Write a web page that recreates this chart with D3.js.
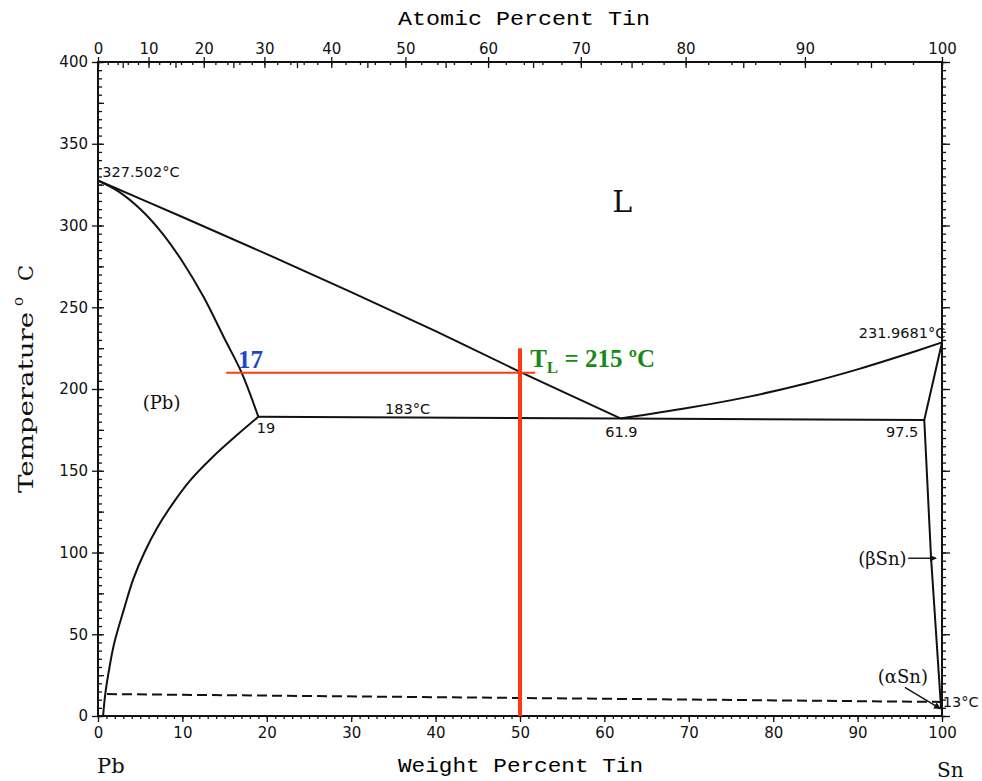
<!DOCTYPE html>
<html>
<head>
<meta charset="utf-8">
<title>Pb-Sn phase diagram</title>
<script src="https://cdn.jsdelivr.net/npm/d3@7"></script>
<style>
  body { margin: 0; background: #fff; }
  svg { display: block; }
  .phase { fill: none; stroke: #111; stroke-width: 2; }
  .tickLabel { font-family: "DejaVu Sans", sans-serif; font-size: 15px; fill: #111; }
  .note { font-family: "DejaVu Sans", sans-serif; font-size: 14.5px; fill: #111; }
  .region { font-family: "DejaVu Serif", serif; fill: #111; }
</style>
</head>
<body>
<script>
(function(){

//tick labels for the three axes
var wtTicks = [0, 10, 20, 30, 40, 50, 60, 70, 80, 90, 100];
var atTicks = [0, 10, 20, 30, 40, 50, 60, 70, 80, 90, 100];
var tempTicks = [0, 50, 100, 150, 200, 250, 300, 350, 400];

//phase boundaries, [weight % Sn, temperature C]
var liquidusPb = [[0, 327.5], [10, 305.2], [20, 282.5], [30, 259.3], [40, 235.4], [50, 210.5], [61.9, 182]];
var solidusPb = [[0, 327.5], [2.5, 320.6], [5, 310.1], [7.5, 296], [10, 278], [12.5, 256.4], [15, 230.7], [17, 210.2], [19, 183]];
var solvusPb = [[0.6, 0], [0.9, 15], [1.3, 28], [1.9, 44], [3, 64], [4.2, 84], [5.5, 100], [7, 115], [9, 131], [10.9, 144], [13.5, 158], [16.5, 172], [19, 183]];
var eutectic = [[19, 183], [61.9, 182], [97.9, 181]];
var liquidusSn = [[61.9, 182], [70, 188.5], [77.3, 195.5], [84, 203.5], [90, 212], [95, 220], [100, 228.5]];
var solidusSn = [[97.9, 181], [100, 228.5]];
var solvusSn = [[97.9, 181], [98.7, 97], [99.9, 4]];
var tinTransition = [[1.07, 13.4], [100, 8.6]];

//red read-off lines for the 50 wt% alloy
var alloyLine = [[50, 0], [50, 225]];
var liquidusRead = [[15.2, 210], [51.8, 210]];

//atomic masses used to place the atomic percent axis
var massSn = 118.71, massPb = 207.2;

var width = 982, height = 781;
var left = 98, right = 942, top = 62, bottom = 716;

var svg = d3.select("body")
    .append("svg")
    .attr("width", width)
    .attr("height", height);

svg.append("rect")
    .attr("width", width)
    .attr("height", height)
    .attr("fill", "#fff");

var x = d3.scaleLinear().domain([0, 100]).range([left, right]);
var y = d3.scaleLinear().domain([0, 400]).range([bottom, top]);

//polylinear scale: atomic % -> pixel, through the weight % conversion
function atToWt(a){
    return 100 * a * massSn / (a * massSn + (100 - a) * massPb);
}
var atDomain = d3.range(0, 100.5, 0.5);
var xAt = d3.scaleLinear()
    .domain(atDomain)
    .range(atDomain.map(function(a){ return x(atToWt(a)); }));

setAxes();
setCurves();
setLabels();

function styleAxis(g){
    g.select(".domain").remove();
    g.selectAll("line").attr("stroke", "#111").attr("stroke-width", 1.3);
    g.selectAll("text").attr("class", "tickLabel").attr("font-family", null).attr("font-size", null);
}

function setAxes(){
    //left axis: labelled ticks outward, minor ticks inward
    svg.append("g")
        .attr("transform", "translate(" + left + ",0)")
        .call(d3.axisLeft(y).tickValues(tempTicks).tickSize(6).tickPadding(4))
        .call(styleAxis);
    svg.append("g")
        .attr("transform", "translate(" + left + ",0)")
        .call(d3.axisRight(y).tickValues(d3.range(0, 401, 5)).tickSize(4).tickFormat(""))
        .call(styleAxis);
    svg.append("g")
        .attr("transform", "translate(" + left + ",0)")
        .call(d3.axisRight(y).tickValues(d3.range(0, 401, 25)).tickSize(6).tickFormat(""))
        .call(styleAxis);

    //right axis: ticks outward
    svg.append("g")
        .attr("transform", "translate(" + right + ",0)")
        .call(d3.axisRight(y).tickValues(d3.range(0, 401, 5)).tickSize(4).tickFormat(""))
        .call(styleAxis);
    svg.append("g")
        .attr("transform", "translate(" + right + ",0)")
        .call(d3.axisRight(y).tickValues(tempTicks).tickSize(8).tickFormat(""))
        .call(styleAxis);

    //bottom axis: weight percent
    svg.append("g")
        .attr("transform", "translate(0," + bottom + ")")
        .call(d3.axisBottom(x).tickValues(wtTicks).tickSize(6).tickPadding(5))
        .call(styleAxis);
    svg.append("g")
        .attr("transform", "translate(0," + bottom + ")")
        .call(d3.axisBottom(x).tickValues(d3.range(0, 101, 1)).tickSize(3).tickFormat(""))
        .call(styleAxis);

    //top axis: atomic percent
    svg.append("g")
        .attr("transform", "translate(0," + top + ")")
        .call(d3.axisTop(xAt).tickValues(atTicks).tickSize(5).tickPadding(3))
        .call(styleAxis);
    svg.append("g")
        .attr("transform", "translate(0," + top + ")")
        .call(d3.axisTop(xAt).tickValues(d3.range(0, 101, 2)).tickSize(-3).tickFormat(""))
        .call(styleAxis);
    svg.append("g")
        .attr("transform", "translate(0," + top + ")")
        .call(d3.axisTop(xAt).tickValues(d3.range(0, 101, 5)).tickSize(-6).tickFormat(""))
        .call(styleAxis);

    //plot frame
    svg.append("rect")
        .attr("x", left)
        .attr("y", top)
        .attr("width", right - left)
        .attr("height", bottom - top)
        .attr("fill", "none")
        .attr("stroke", "#111")
        .attr("stroke-width", 2);

    //axis titles
    svg.append("text")
        .attr("x", 398).attr("y", 25)
        .attr("textLength", 252).attr("lengthAdjust", "spacingAndGlyphs")
        .style("font-family", "'Liberation Mono', monospace").style("font-size", "21px")
        .text("Atomic Percent Tin");
    svg.append("text")
        .attr("x", 398).attr("y", 772)
        .attr("textLength", 245).attr("lengthAdjust", "spacingAndGlyphs")
        .style("font-family", "'Liberation Mono', monospace").style("font-size", "21px")
        .text("Weight Percent Tin");

    var yTitle = svg.append("g").attr("transform", "translate(33,493) rotate(-90)");
    yTitle.append("text")
        .attr("x", 0).attr("y", 0)
        .attr("textLength", 181).attr("lengthAdjust", "spacingAndGlyphs")
        .attr("class", "region").style("font-size", "21px")
        .text("Temperature");
    yTitle.append("text")
        .attr("x", 187).attr("y", -10)
        .attr("class", "region").style("font-size", "15px")
        .text("o");
    yTitle.append("text")
        .attr("x", 212).attr("y", 0)
        .attr("class", "region").style("font-size", "21px")
        .text("C");

    //element names at the ends of the weight axis
    svg.append("text")
        .attr("x", 97).attr("y", 773)
        .attr("class", "region").style("font-size", "21px")
        .text("Pb");
    svg.append("text")
        .attr("x", 937).attr("y", 777)
        .attr("class", "region").style("font-size", "20px")
        .text("Sn");
}

function setCurves(){
    var smooth = d3.line()
        .x(function(d){ return x(d[0]); })
        .y(function(d){ return y(d[1]); })
        .curve(d3.curveCatmullRom.alpha(0.5));
    var straight = d3.line()
        .x(function(d){ return x(d[0]); })
        .y(function(d){ return y(d[1]); });

    [liquidusPb, solidusPb, solvusPb, liquidusSn].forEach(function(c){
        svg.append("path").datum(c).attr("class", "phase").attr("d", smooth);
    });
    [solidusSn, solvusSn].forEach(function(c){
        svg.append("path").datum(c).attr("class", "phase").attr("d", straight);
    });
    svg.append("path").datum(eutectic)
        .attr("class", "phase")
        .attr("stroke-width", 2.6)
        .attr("d", straight);
    svg.append("path").datum(tinTransition)
        .attr("class", "phase")
        .attr("stroke-dasharray", "10,5")
        .attr("d", straight);

    //red guide lines
    svg.append("path").datum(liquidusRead)
        .attr("fill", "none").attr("stroke", "#ff3a10").attr("stroke-width", 2)
        .attr("d", straight);
    svg.append("path").datum(alloyLine)
        .attr("fill", "none").attr("stroke", "#ff3a10").attr("stroke-width", 4)
        .attr("d", straight);

    //arrows to the tin solid solutions
    svg.append("defs").append("marker")
        .attr("id", "head")
        .attr("viewBox", "0 0 10 10")
        .attr("refX", 9).attr("refY", 5)
        .attr("markerWidth", 5).attr("markerHeight", 5)
        .attr("orient", "auto")
        .append("path")
        .attr("d", "M0,0 L10,5 L0,10 z")
        .attr("fill", "#111");
    svg.append("path").datum([[96, 96.5], [99.3, 96.5]])
        .attr("fill", "none").attr("stroke", "#111").attr("stroke-width", 1.4)
        .attr("marker-end", "url(#head)")
        .attr("d", straight);
    svg.append("path").datum([[95.6, 17.5], [99.8, 4.5]])
        .attr("fill", "none").attr("stroke", "#111").attr("stroke-width", 1.4)
        .attr("marker-end", "url(#head)")
        .attr("d", straight);
}

function addNote(wt, t, str, anchor, cls, size){
    return svg.append("text")
        .attr("x", x(wt))
        .attr("y", y(t))
        .attr("text-anchor", anchor || "start")
        .attr("class", cls || "note")
        .style("font-size", size || null)
        .text(str);
}

function setLabels(){
    addNote(0.5, 329.7, "327.502°C");
    addNote(100.4, 231.2, "231.9681°C", "end");
    addNote(34, 184.7, "183°C");
    addNote(18.8, 173, "19");
    addNote(60.1, 170.6, "61.9");
    addNote(97.2, 170.6, "97.5", "end");
    addNote(100.1, 5.5, "13°C");

    addNote(62.1, 308, "L", "middle", "region", "30px");
    addNote(5.3, 187.8, "(Pb)", "start", "region", "18px");
    addNote(95.8, 92.4, "(βSn)", "end", "region", "18px");
    addNote(92.4, 20.2, "(αSn)", "start", "region", "18px");

    //coloured read-off annotations
    svg.append("text")
        .attr("x", x(16.6)).attr("y", y(212.8))
        .style("font-family", "'Liberation Serif', serif")
        .style("font-weight", "bold").style("font-size", "25px")
        .attr("fill", "#1f47c8")
        .text("17");

    var tl = svg.append("text")
        .attr("x", x(51.2)).attr("y", y(213.5))
        .style("font-family", "'Liberation Serif', serif")
        .style("font-weight", "bold").style("font-size", "25px")
        .attr("fill", "#168a16");
    tl.append("tspan").text("T");
    tl.append("tspan").attr("dy", 6).style("font-size", "17px").text("L");
    tl.append("tspan").attr("dy", -6).text(" = 215 ºC");
}

})();
</script>
</body>
</html>
